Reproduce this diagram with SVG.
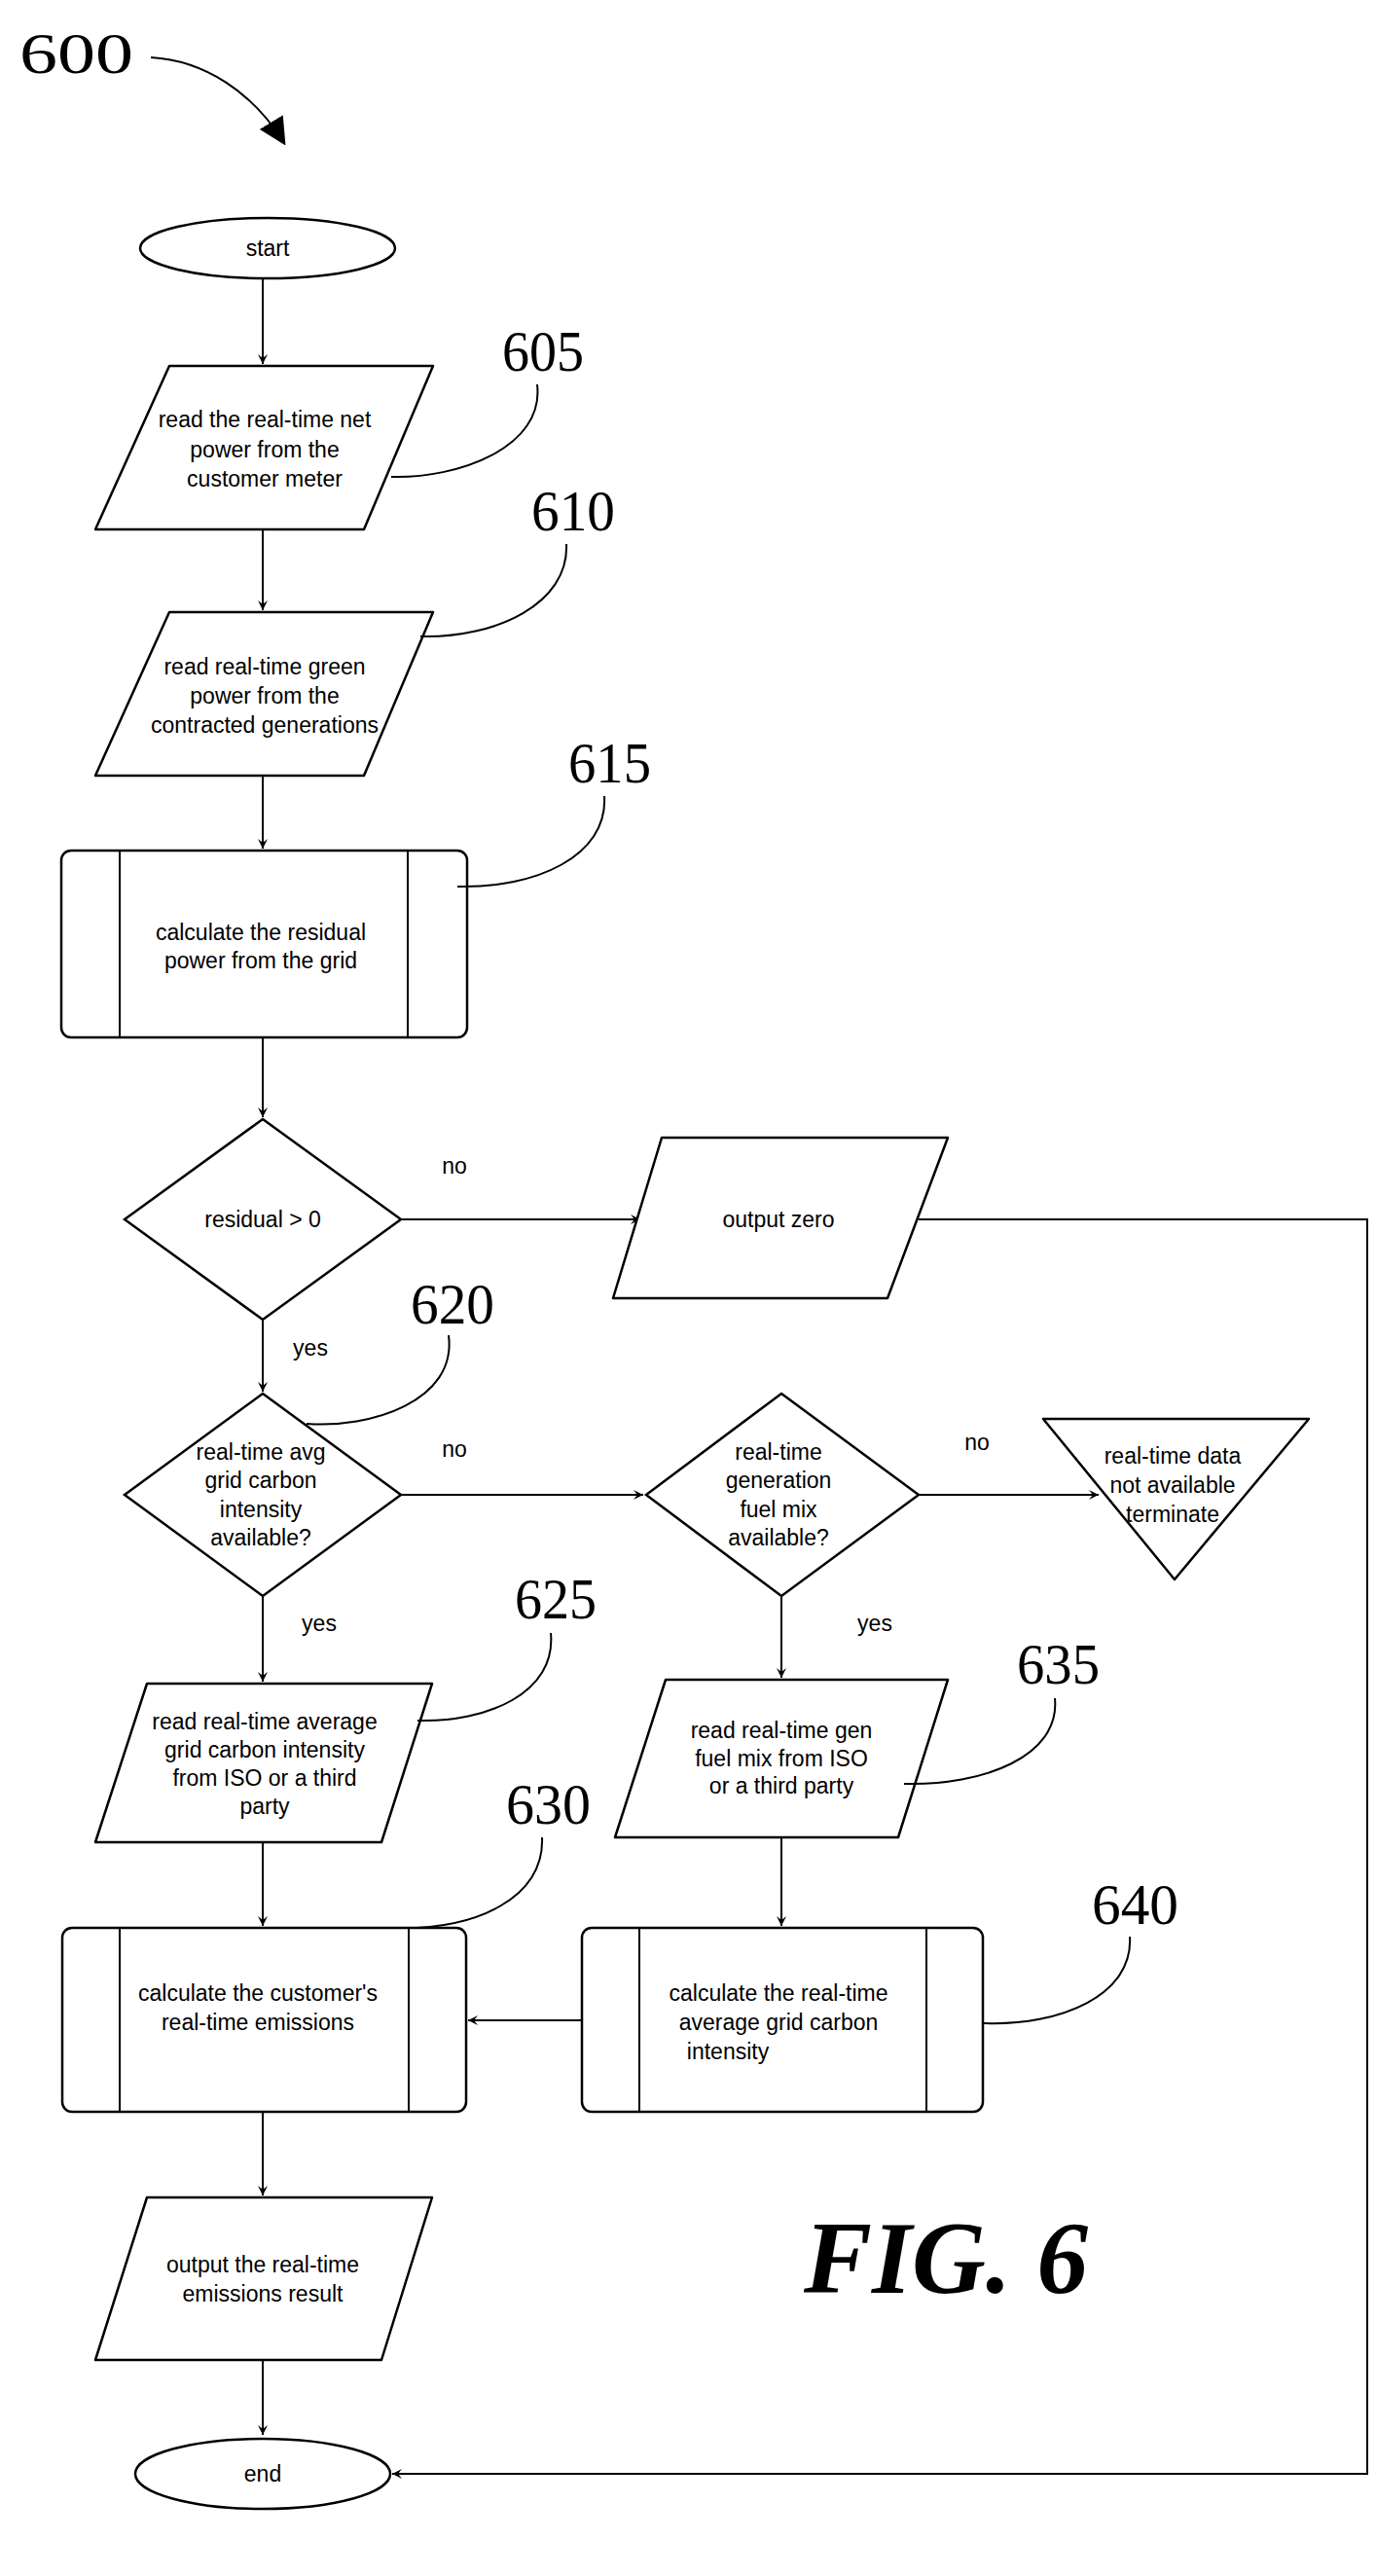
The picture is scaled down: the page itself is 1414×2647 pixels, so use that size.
<svg xmlns="http://www.w3.org/2000/svg" width="1414" height="2647" viewBox="0 0 1414 2647">
<style>
.s{fill:#fff;stroke:#000;stroke-width:2.5}
.c{fill:none;stroke:#000;stroke-width:2}
.t{font-family:"Liberation Sans",Arial,sans-serif;font-size:23px;text-anchor:middle;fill:#000}
.n{font-family:"Liberation Serif","Times New Roman",serif;font-size:60px;fill:#000}
</style>
<defs>
<marker id="a" viewBox="0 0 10 10" refX="10" refY="5" markerWidth="10" markerHeight="10" markerUnits="userSpaceOnUse" orient="auto"><path d="M0,0 L10,5 L0,10 L4,5 z" fill="#000"/></marker>
<marker id="b" viewBox="0 0 10 10" refX="9" refY="5" markerWidth="28" markerHeight="28" markerUnits="userSpaceOnUse" orient="auto"><path d="M0,0 L10,5 L0,10 z" fill="#000"/></marker>
</defs>
<text class="n" x="20" y="75" font-size="92" textLength="117" lengthAdjust="spacingAndGlyphs">600</text>
<path class="c" d="M155,59 C210,62 260,95 292,147" stroke-width="3" marker-end="url(#b)"/>
<g id="connectors">
<path class="c" d="M270,287 V374" marker-end="url(#a)"/>
<path class="c" d="M270,544 V627" marker-end="url(#a)"/>
<path class="c" d="M270,797 V872" marker-end="url(#a)"/>
<path class="c" d="M270,1066 V1148" marker-end="url(#a)"/>
<path class="c" d="M412,1253 H658" marker-end="url(#a)"/>
<path class="c" d="M944,1253 H1405 V2542 H403" marker-end="url(#a)"/>
<path class="c" d="M270,1356 V1430" marker-end="url(#a)"/>
<path class="c" d="M412,1536 H661" marker-end="url(#a)"/>
<path class="c" d="M944,1536 H1129" marker-end="url(#a)"/>
<path class="c" d="M270,1640 V1728" marker-end="url(#a)"/>
<path class="c" d="M803,1640 V1724" marker-end="url(#a)"/>
<path class="c" d="M803,1888 V1979" marker-end="url(#a)"/>
<path class="c" d="M598,2076 H481" marker-end="url(#a)"/>
<path class="c" d="M270,1893 V1979" marker-end="url(#a)"/>
<path class="c" d="M270,2170 V2256" marker-end="url(#a)"/>
<path class="c" d="M270,2425 V2502" marker-end="url(#a)"/>
<text class="t" x="467" y="1206">no</text>
<text class="t" x="319" y="1393">yes</text>
<text class="t" x="467" y="1497">no</text>
<text class="t" x="1004" y="1490">no</text>
<text class="t" x="328" y="1676">yes</text>
<text class="t" x="899" y="1676">yes</text>
</g>
<g id="start"><ellipse class="s" cx="275" cy="255" rx="131" ry="31"/><text class="t" x="275" y="263">start</text></g>
<g id="n605"><path class="s" d="M174,376 H445 L374,544 H98 Z" stroke-linejoin="round"/>
<text class="t" x="272" y="439">read the real-time net</text><text class="t" x="272" y="470">power from the</text><text class="t" x="272" y="500">customer meter</text>
<text class="n" x="516" y="381" textLength="84" lengthAdjust="spacingAndGlyphs">605</text>
<path class="c" d="M552,395 C560,460 470,492 402,490"/></g>
<g id="n610"><path class="s" d="M174,629 H445 L374,797 H98 Z" stroke-linejoin="round"/>
<text class="t" x="272" y="693">read real-time green</text><text class="t" x="272" y="723">power from the</text><text class="t" x="272" y="753">contracted generations</text>
<text class="n" x="546" y="545" textLength="86" lengthAdjust="spacingAndGlyphs">610</text>
<path class="c" d="M582,559 C585,620 510,656 432,654"/></g>
<g id="n615"><rect class="s" x="63" y="874" width="417" height="192" rx="10"/>
<path class="c" d="M123,874 V1066 M419,874 V1066" stroke-width="2.5"/>
<text class="t" x="268" y="966">calculate the residual</text><text class="t" x="268" y="995">power from the grid</text>
<text class="n" x="584" y="804" textLength="85" lengthAdjust="spacingAndGlyphs">615</text>
<path class="c" d="M621,818 C625,880 550,913 470,911"/></g>
<g id="d1"><path class="s" d="M270,1150 L412,1253 L270,1356 L128,1253 Z"/><text class="t" x="270" y="1261">residual &gt; 0</text></g>
<g id="zero"><path class="s" d="M680,1169 H974 L912,1334 H630 Z" stroke-linejoin="round"/><text class="t" x="800" y="1261">output zero</text></g>
<g id="d2"><path class="s" d="M270,1432 L412,1536 L270,1640 L128,1536 Z"/>
<text class="t" x="268" y="1500">real-time avg</text><text class="t" x="268" y="1529">grid carbon</text><text class="t" x="268" y="1559">intensity</text><text class="t" x="268" y="1588">available?</text>
<text class="n" x="422" y="1360" textLength="86" lengthAdjust="spacingAndGlyphs">620</text>
<path class="c" d="M461,1372 C470,1440 380,1468 315,1463"/></g>
<g id="d3"><path class="s" d="M803,1432 L944,1536 L803,1640 L664,1536 Z"/>
<text class="t" x="800" y="1500">real-time</text><text class="t" x="800" y="1529">generation</text><text class="t" x="800" y="1559">fuel mix</text><text class="t" x="800" y="1588">available?</text></g>
<g id="term"><path class="s" d="M1072,1458 H1345 L1207,1623 Z" stroke-linejoin="round"/>
<text class="t" x="1205" y="1504">real-time data</text><text class="t" x="1205" y="1534">not available</text><text class="t" x="1205" y="1564">terminate</text></g>
<g id="n625"><path class="s" d="M151,1730 H444 L392,1893 H98 Z" stroke-linejoin="round"/>
<text class="t" x="272" y="1777">read real-time average</text><text class="t" x="272" y="1806">grid carbon intensity</text><text class="t" x="272" y="1835">from ISO or a third</text><text class="t" x="272" y="1864">party</text>
<text class="n" x="529" y="1663" textLength="84" lengthAdjust="spacingAndGlyphs">625</text>
<path class="c" d="M566,1678 C572,1740 500,1770 429,1768"/></g>
<g id="n635"><path class="s" d="M684,1726 H974 L923,1888 H632 Z" stroke-linejoin="round"/>
<text class="t" x="803" y="1786">read real-time gen</text><text class="t" x="803" y="1815">fuel mix from ISO</text><text class="t" x="803" y="1843">or a third party</text>
<text class="n" x="1045" y="1730" textLength="85" lengthAdjust="spacingAndGlyphs">635</text>
<path class="c" d="M1084,1745 C1090,1805 1010,1835 929,1833"/></g>
<g id="n630"><rect class="s" x="64" y="1981" width="415" height="189" rx="10"/>
<path class="c" d="M123,1981 V2170 M420,1981 V2170" stroke-width="2.5"/>
<text class="t" x="265" y="2056">calculate the customer's</text><text class="t" x="265" y="2086">real-time emissions</text>
<text class="n" x="520" y="1874" textLength="87" lengthAdjust="spacingAndGlyphs">630</text>
<path class="c" d="M557,1888 C560,1950 490,1983 406,1981"/></g>
<g id="n640"><rect class="s" x="598" y="1981" width="412" height="189" rx="10"/>
<path class="c" d="M657,1981 V2170 M952,1981 V2170" stroke-width="2.5"/>
<text class="t" x="800" y="2056">calculate the real-time</text><text class="t" x="800" y="2086">average grid carbon</text><text class="t" x="748" y="2116" text-anchor="start">intensity</text>
<text class="n" x="1122" y="1977" textLength="89" lengthAdjust="spacingAndGlyphs">640</text>
<path class="c" d="M1161,1990 C1165,2050 1090,2082 1011,2079"/></g>
<g id="out"><path class="s" d="M151,2258 H444 L392,2425 H98 Z" stroke-linejoin="round"/>
<text class="t" x="270" y="2335">output the real-time</text><text class="t" x="270" y="2365">emissions result</text></g>
<g id="end"><ellipse class="s" cx="270" cy="2542" rx="131" ry="36"/><text class="t" x="270" y="2550">end</text></g>
<text x="826" y="2356" font-family="Liberation Serif,serif" font-weight="bold" font-style="italic" font-size="106" textLength="292" lengthAdjust="spacingAndGlyphs">FIG. 6</text>
</svg>
